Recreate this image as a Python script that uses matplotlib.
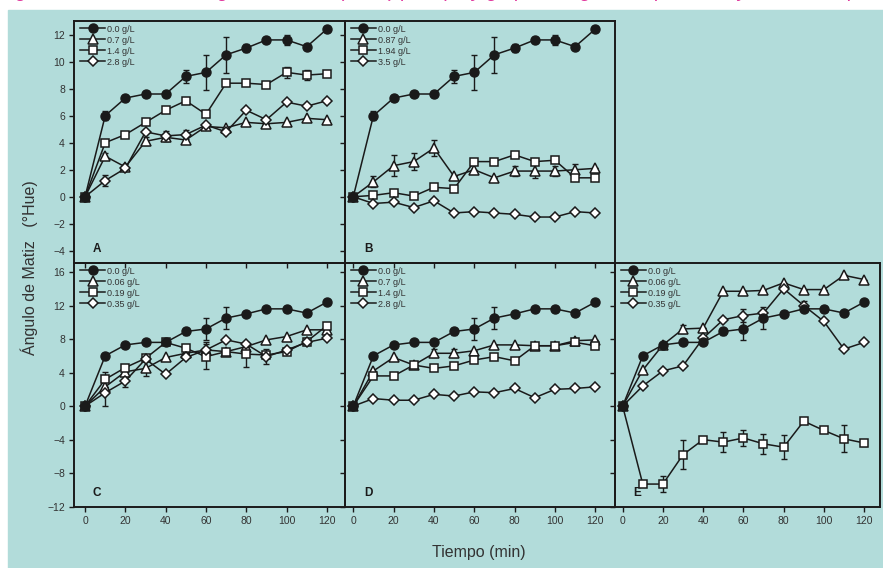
import matplotlib
matplotlib.use('Agg')
import matplotlib.pyplot as plt
from matplotlib.patches import Rectangle

plt.rcParams['font.family'] = ['Liberation Sans', 'DejaVu Sans']

W, H = 883, 568
teal = '#b2dcda'
ink = '#1a1a1a'
grey = '#333333'

minutes = [0, 10, 20, 30, 40, 50, 60, 70, 80, 90, 100, 110, 120]

# control (0.0 g/L), same curve in every panel
ctrl = [0, 6.0, 7.3, 7.6, 7.6, 8.9, 9.2, 10.5, 11.0, 11.6, 11.6, 11.1, 12.4]
ctrl_err = [0, 0.35, 0.2, 0.2, 0.2, 0.45, 1.3, 1.35, 0.3, 0.2, 0.35, 0.2, 0.2]

# panel A
a_07 = [0, 3.0, 2.2, 4.1, 4.4, 4.2, 5.2, 5.1, 5.5, 5.4, 5.5, 5.8, 5.7]
a_07_err = [0, 0.2, 0.2, 0.3, 0.3, 0.2, 0, 0, 0, 0, 0, 0, 0]
a_14 = [0, 4.0, 4.6, 5.5, 6.4, 7.1, 6.1, 8.4, 8.4, 8.3, 9.2, 9.0, 9.1]
a_14_err = [0, 0, 0, 0, 0, 0, 0, 0, 0, 0, 0.4, 0.4, 0]
a_28 = [0, 1.2, 2.1, 4.8, 4.5, 4.6, 5.3, 4.8, 6.4, 5.7, 7.0, 6.7, 7.1]
a_28_err = [0, 0.4, 0, 0, 0.35, 0.35, 0, 0, 0, 0, 0, 0, 0]

# panel B
b_087 = [0, 1.1, 2.3, 2.6, 3.6, 1.5, 2.0, 1.4, 1.9, 1.9, 1.9, 2.0, 2.1]
b_087_err = [0, 0.4, 0.8, 0.6, 0.6, 0, 0, 0, 0.4, 0.5, 0.4, 0.4, 0]
b_194 = [0, 0.1, 0.3, 0.05, 0.7, 0.6, 2.6, 2.6, 3.1, 2.6, 2.7, 1.4, 1.4]
b_194_err = [0] * 13
b_35 = [0, -0.5, -0.4, -0.8, -0.3, -1.2, -1.1, -1.2, -1.3, -1.5, -1.5, -1.1, -1.2]
b_35_err = [0] * 13

# panel C
c_006 = [0, 2.3, 4.1, 4.5, 5.8, 6.3, 6.7, 6.5, 7.1, 7.9, 8.3, 9.1, 9.1]
c_006_err = [0, 0, 0, 0.9, 0, 0, 0, 0, 0, 0, 0, 0, 0]
c_019 = [0, 3.2, 4.6, 5.7, 7.6, 6.9, 5.9, 6.5, 6.2, 6.1, 6.5, 7.7, 9.6]
c_019_err = [0, 0.9, 0, 0, 0, 0, 1.5, 0, 1.5, 0, 0, 0, 0]
c_035 = [0, 1.6, 3.0, 5.6, 3.8, 5.8, 6.7, 7.9, 7.4, 5.9, 6.7, 7.6, 8.1]
c_035_err = [0, 1.6, 0.7, 0, 0, 0, 1.0, 0, 0, 0.9, 0, 0, 0]

# panel D
d_07 = [0, 4.2, 5.8, 4.9, 6.3, 6.3, 6.6, 7.3, 7.3, 7.2, 7.2, 7.8, 7.9]
d_07_err = [0, 0, 0, 0, 0.5, 0.5, 0, 0, 0, 0, 0, 0, 0]
d_14 = [0, 3.6, 3.6, 4.9, 4.5, 4.8, 5.5, 5.9, 5.4, 7.2, 7.2, 7.6, 7.2]
d_14_err = [0] * 13
d_28 = [0, 0.9, 0.7, 0.7, 1.4, 1.2, 1.7, 1.6, 2.1, 1.0, 2.0, 2.1, 2.3]
d_28_err = [0] * 13

# panel E
e_006 = [0, 4.3, 7.3, 9.2, 9.3, 13.7, 13.7, 13.8, 14.7, 13.9, 13.9, 15.6, 15.1]
e_006_err = [0, 0, 0, 0.5, 0, 0, 0, 0, 0, 0, 0, 0, 0]
e_019 = [0, -9.3, -9.3, -5.8, -4.0, -4.3, -3.8, -4.5, -4.9, -1.8, -2.9, -3.9, -4.4]
e_019_err = [0, 0, 1.0, 1.7, 0, 1.2, 0.9, 1.2, 1.4, 0, 0, 1.6, 0.3]
e_035 = [0, 2.4, 4.2, 4.8, 8.1, 10.3, 10.8, 11.1, 14.0, 12.0, 10.1, 6.8, 7.6]
e_035_err = [0, 0, 0, 0, 0, 0, 0.8, 0, 0, 0.5, 0, 0, 0]

panels = {
    'A': (['0.7 g/L', '1.4 g/L', '2.8 g/L'], [a_07, a_14, a_28], [a_07_err, a_14_err, a_28_err]),
    'B': (['0.87 g/L', '1.94 g/L', '3.5 g/L'], [b_087, b_194, b_35], [b_087_err, b_194_err, b_35_err]),
    'C': (['0.06 g/L', '0.19 g/L', '0.35 g/L'], [c_006, c_019, c_035], [c_006_err, c_019_err, c_035_err]),
    'D': (['0.7 g/L', '1.4 g/L', '2.8 g/L'], [d_07, d_14, d_28], [d_07_err, d_14_err, d_28_err]),
    'E': (['0.06 g/L', '0.19 g/L', '0.35 g/L'], [e_006, e_019, e_035], [e_006_err, e_019_err, e_035_err]),
}


def box(left, top, right, bottom):
    return [left / W, 1 - bottom / H, (right - left) / W, (bottom - top) / H]


fig = plt.figure(figsize=(W / 100, H / 100), dpi=100)
fig.add_artist(Rectangle((8 / W, 0), 1, 1 - 10 / H, transform=fig.transFigure,
                         color=teal, zorder=0))
# caption line cut off by the top edge in the source: only descenders peek in
fig.text(0.0, 1 + 3 / H, 'Figura 2. Cambios del ángulo de matiz (°Hue) por tipo y grupo de agentes aplicados, y su efecto típico',
         color='#e0359c', fontsize=14, style='italic', va='baseline', ha='left')

layout = {
    'A': (box(74, 21, 345, 263), (-5.5, 129), 'top', True),
    'B': (box(345, 21, 615, 263), (-4.1, 129.8), 'top', False),
    'C': (box(74, 263, 345, 506.7), (-5.5, 129), 'bottom', True),
    'D': (box(345, 263, 615, 506.7), (-4.1, 129.8), 'bottom', False),
    'E': (box(615, 263, 880, 506.7), (-3.8, 127.9), 'bottom', False),
}

markers = ['^', 's', 'D']
sizes = [6.5, 6, 5.5]

for name, (rect, xlim, row, ylabels) in layout.items():
    ax = fig.add_axes(rect)
    ax.set_facecolor('none')
    labels, ys, errs = panels[name]

    ax.errorbar(minutes, ctrl, yerr=ctrl_err, fmt='none', ecolor=ink,
                elinewidth=1, capsize=2, capthick=1, zorder=2)
    ax.plot(minutes, ctrl, color=ink, lw=1.1, marker='o', ms=6.5, mfc=ink,
            mec=ink, label='0.0 g/L', zorder=5)
    for lab, y, e, m, s in zip(labels, ys, errs, markers, sizes):
        ax.errorbar(minutes, y, yerr=e, fmt='none', ecolor=ink,
                    elinewidth=1, capsize=2, capthick=1, zorder=2)
        ax.plot(minutes, y, color=ink, lw=1.1, marker=m, ms=s, mfc='white',
                mec=ink, mew=1.1, label=lab, zorder=4)

    ax.set_xlim(*xlim)
    ax.set_xticks(range(0, 121, 20))
    if row == 'top':
        ax.set_ylim(-4.9, 13.0)
        ax.set_yticks(range(-4, 13, 2))
    else:
        ax.set_ylim(-12, 17.07)
        ax.set_yticks(range(-12, 17, 4))

    for sp in ax.spines.values():
        sp.set_linewidth(1.4)
        sp.set_color(ink)
    ax.tick_params(direction='out', length=3.5, width=1, color=ink,
                   labelsize=7.5, labelcolor=grey, pad=3,
                   labelbottom=(row == 'bottom'), labelleft=ylabels)

    ax.legend(loc='upper left', bbox_to_anchor=(0.01, 1.0), frameon=False,
              fontsize=6.5, handlelength=2.7, handletextpad=0.3,
              labelspacing=0.22, borderaxespad=0.2, borderpad=0.2,
              labelcolor=grey)
    ax.text(0.07, 0.045, name, transform=ax.transAxes, fontsize=8.5,
            fontweight='bold', color=ink)

fig.text(29 / W, 1 - 268 / H, 'Ángulo de Matiz   (°Hue)', rotation=90,
         ha='center', va='center', fontsize=11.5, color=grey)
fig.text(479 / W, 1 - 552 / H, 'Tiempo (min)', ha='center', va='center',
         fontsize=11.5, color=grey)

fig.savefig('out.png', dpi=100)
